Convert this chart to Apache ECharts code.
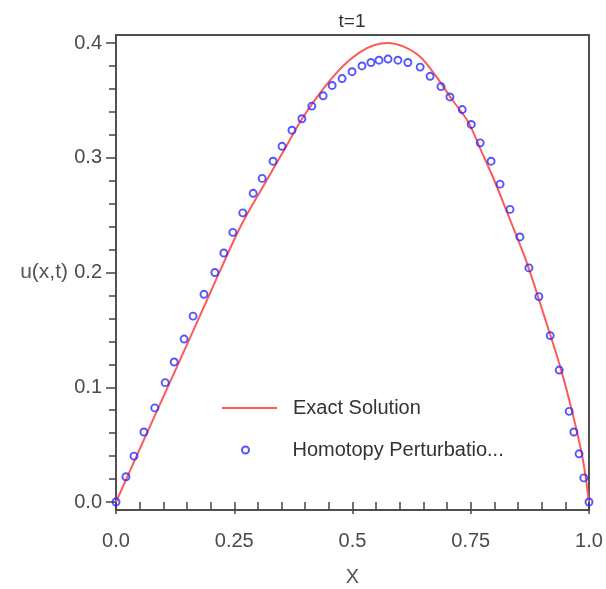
<!DOCTYPE html>
<html>
<head>
<meta charset="utf-8">
<style>html,body{margin:0;padding:0;background:#fff;}#c{width:606px;height:589px;}</style>
<script src="https://cdn.jsdelivr.net/npm/echarts@6/dist/echarts.min.js"></script>
</head>
<body>
<div id="c"></div>
<script>
var titleText = 't=1';
var xName = 'X';
var yName = 'u(x,t)';
var exactName = 'Exact Solution';
var hpmName = 'Homotopy Perturbatio...';
var xTicks = [0, 0.25, 0.5, 0.75, 1.0];
var xTickLabels = ['0.0', '0.25', '0.5', '0.75', '1.0'];
var yTickLabels = ['0.0', '0.1', '0.2', '0.3', '0.4'];

var exactX = [0, 0.05, 0.129, 0.2, 0.262, 0.311, 0.353, 0.395, 0.438, 0.48, 0.516, 0.545, 0.575, 0.607, 0.643, 0.675, 0.71, 0.745, 0.77, 0.797, 0.833, 0.869, 0.903, 0.939, 0.966, 0.987, 1.0];
var exactY = [0, 0.046, 0.118, 0.183, 0.239, 0.275, 0.305, 0.335, 0.36, 0.38, 0.392, 0.398, 0.4, 0.397, 0.388, 0.372, 0.351, 0.331, 0.308, 0.283, 0.246, 0.208, 0.165, 0.118, 0.076, 0.037, 0];

var hpmX = [0, 0.021, 0.038, 0.059, 0.082, 0.104, 0.123, 0.144, 0.163, 0.186, 0.209, 0.228, 0.247, 0.268, 0.29, 0.309, 0.332, 0.351, 0.372, 0.393, 0.414, 0.438, 0.457, 0.478, 0.499, 0.52, 0.539, 0.556, 0.575, 0.596, 0.617, 0.643, 0.664, 0.687, 0.706, 0.732, 0.751, 0.77, 0.793, 0.812, 0.833, 0.854, 0.873, 0.894, 0.918, 0.937, 0.958, 0.968, 0.979, 0.989, 1.0];
var hpmY = [0, 0.022, 0.04, 0.061, 0.082, 0.104, 0.122, 0.142, 0.162, 0.181, 0.2, 0.217, 0.235, 0.252, 0.269, 0.282, 0.297, 0.31, 0.324, 0.334, 0.345, 0.354, 0.363, 0.369, 0.375, 0.38, 0.383, 0.385, 0.386, 0.385, 0.383, 0.379, 0.371, 0.362, 0.353, 0.342, 0.329, 0.313, 0.297, 0.277, 0.255, 0.231, 0.204, 0.179, 0.145, 0.115, 0.079, 0.061, 0.042, 0.021, 0];

function zip(a, b) { return a.map(function (v, i) { return [v, b[i]]; }); }

var font = 'Liberation Sans, Arial, sans-serif';
var chart = echarts.init(document.getElementById('c'));
chart.setOption({
  animation: false,
  backgroundColor: '#fff',
  title: {
    text: titleText, left: 352, top: 12, textAlign: 'center', padding: 0,
    textStyle: { fontFamily: font, fontSize: 19, fontWeight: 'normal', color: '#333' }
  },
  legend: [
    {
      data: [{ name: exactName, itemStyle: { opacity: 0 } }], left: 221, top: 398, padding: 0, itemWidth: 55, itemHeight: 14,
      textStyle: { fontFamily: font, fontSize: 20, color: '#333', lineHeight: 20, padding: [0, 0, 0, 11] },
      selectedMode: false
    },
    {
      data: [hpmName], left: 241, top: 440, padding: 0, itemWidth: 64, itemHeight: 7,
      textStyle: { fontFamily: font, fontSize: 20, color: '#333', lineHeight: 20, padding: [0, 0, 0, 10] },
      selectedMode: false
    }
  ],
  grid: [
    { left: 116, right: 17, top: 43, bottom: 87, containLabel: false, outerBoundsMode: 'none', show: false },
    { left: 116, right: 17, top: 35, bottom: 79, containLabel: false, outerBoundsMode: 'none', show: true, borderColor: '#505050', borderWidth: 2, backgroundColor: 'transparent' }
  ],
  xAxis: [
    {
      type: 'value', gridIndex: 0, min: 0, max: 1, interval: 0.25, offset: 8,
      name: xName, nameLocation: 'middle', nameGap: 57,
      nameTextStyle: { fontFamily: font, fontSize: 20, color: '#555' },
      axisLine: { show: false },
      axisTick: { show: true, length: 12, lineStyle: { color: '#444', width: 1.5 } },
      minorTick: { show: true, splitNumber: 5, length: 8, lineStyle: { color: '#444', width: 1.5 } },
      splitLine: { show: false },
      axisLabel: {
        margin: 21, fontFamily: font, fontSize: 20, color: '#4a4a4a',
        formatter: function (v) { var i = xTicks.indexOf(v); return i >= 0 ? xTickLabels[i] : ''; }
      }
    },
    { type: 'value', gridIndex: 1, show: false, min: 0, max: 1 }
  ],
  yAxis: [
    {
      type: 'value', gridIndex: 0, min: 0, max: 0.4, interval: 0.1,
      name: yName, nameLocation: 'middle', nameRotate: 0, nameGap: 48,
      nameTextStyle: { fontFamily: font, fontSize: 21, color: '#555', align: 'right' },
      axisLine: { show: false },
      axisTick: { show: true, length: 10, lineStyle: { color: '#444', width: 1.5 } },
      minorTick: { show: true, splitNumber: 5, length: 7, lineStyle: { color: '#444', width: 1.5 } },
      splitLine: { show: false },
      axisLabel: {
        margin: 14, fontFamily: font, fontSize: 20, color: '#4a4a4a',
        formatter: function (v) { return yTickLabels[Math.round(v * 10)]; }
      }
    },
    { type: 'value', gridIndex: 1, show: false, min: 0, max: 1 }
  ],
  series: [
    {
      name: exactName, type: 'line', xAxisIndex: 0, yAxisIndex: 0,
      data: zip(exactX, exactY), smooth: 0.3, symbol: 'none',
      lineStyle: { color: '#ff5a5a', width: 2 }, itemStyle: { color: '#ff5a5a' }, z: 2
    },
    {
      name: hpmName, type: 'scatter', xAxisIndex: 0, yAxisIndex: 0,
      data: zip(hpmX, hpmY), symbol: 'circle', symbolSize: 7,
      itemStyle: { color: 'rgba(255,255,255,0)', borderColor: '#2a2aff', borderWidth: 1.9 }, z: 3
    }
  ]
});
</script>
</body>
</html>
